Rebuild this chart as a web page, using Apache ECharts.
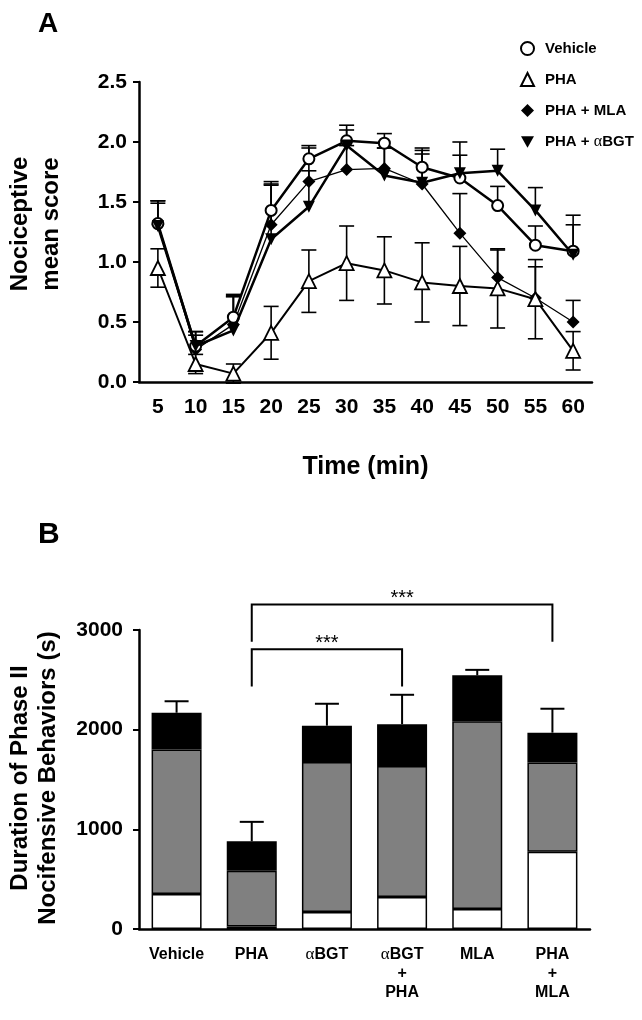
<!DOCTYPE html>
<html><head><meta charset="utf-8">
<script src="https://cdn.jsdelivr.net/npm/echarts@6/dist/echarts.min.js"></script>
<style>html,body{margin:0;padding:0;background:#fff}#c{width:642px;height:1020px}</style>
</head><body><div id="c"></div>
<script>
// ---------- Panel A data ----------
const times = ['5','10','15','20','25','30','35','40','45','50','55','60'];
const vehicle    = [1.32, 0.30, 0.54, 1.43, 1.86, 2.01, 1.99, 1.79, 1.70, 1.47, 1.14, 1.09];
const vehicleErr = [0.19, 0.12, 0.19, 0.24, 0.11, 0.09, 0.08, 0.16, 0.19, 0.16, 0.16, 0.22];
const pha        = [0.95, 0.15, 0.07, 0.41, 0.84, 0.99, 0.93, 0.83, 0.80, 0.78, 0.69, 0.26];
const phaErr     = [0.16, 0.08, 0.08, 0.22, 0.26, 0.31, 0.28, 0.33, 0.33, 0.33, 0.33, 0.16];
const phaMla     = [1.31, 0.27, 0.48, 1.31, 1.67, 1.77, 1.78, 1.65, 1.24, 0.87, 0.70, 0.50];
const phaMlaErr  = [0.18, 0.12, 0.23, 0.34, 0.28, 0.20, 0.17, 0.25, 0.33, 0.23, 0.26, 0.18];
const phaBgt     = [1.30, 0.30, 0.43, 1.19, 1.46, 1.97, 1.72, 1.66, 1.74, 1.76, 1.43, 1.06];
const phaBgtErr  = [0.21, 0.12, 0.29, 0.45, 0.30, 0.17, 0.23, 0.27, 0.26, 0.18, 0.19, 0.33];
const seriesNamesA = ['Vehicle', 'PHA', 'PHA + MLA', 'PHA + αBGT'];

// ---------- Panel B data ----------
const groups   = ['Vehicle', 'PHA', 'αBGT', 'αBGT\n+\nPHA', 'MLA', 'PHA\n+\nMLA'];
const whiteSeg = [350, 25, 170, 320, 200, 775];
const graySeg  = [1450, 560, 1505, 1315, 1885, 895];
const blackSeg = [370, 295, 365, 420, 460, 300];
const semB     = [115, 195, 220, 295, 55, 240];
// brackets: [left group index, right group index, bar level, leg end level]
const brackets = [[1, 5, 3257, 2883], [1, 3, 2807, 2432]];
const bracketText = ['***', '***'];

const FF = '"Liberation Sans", Arial, Helvetica, sans-serif';
const chart = echarts.init(document.getElementById('c'), null, {renderer: 'canvas'});

function errSeries(name, vals, errs, both) {
  return {
    type: 'custom', name: name, xAxisIndex: 0, yAxisIndex: 0, z: 1,
    data: vals.map((v, i) => [i, v, errs[i]]),
    encode: {x: 0, y: 1},
    renderItem: function (params, api) {
      const x = api.value(0), v = api.value(1), e = api.value(2);
      const top = api.coord([x, v + e]);
      const bot = api.coord([x, both ? v - e : v]);
      const hw = 7.5;
      const st = {stroke: '#000', lineWidth: 1.6};
      const ch = [
        {type: 'line', shape: {x1: top[0], y1: top[1], x2: bot[0], y2: bot[1]}, style: st},
        {type: 'line', shape: {x1: top[0] - hw, y1: top[1], x2: top[0] + hw, y2: top[1]}, style: st}
      ];
      if (both) ch.push({type: 'line', shape: {x1: bot[0] - hw, y1: bot[1], x2: bot[0] + hw, y2: bot[1]}, style: st});
      return {type: 'group', children: ch};
    }
  };
}

const totalsB = whiteSeg.map((w, i) => w + graySeg[i] + blackSeg[i]);

const option = {
  animation: false,
  backgroundColor: '#fff',
  textStyle: {fontFamily: FF, color: '#000'},
  grid: [
    {left: 139, top: 82, width: 453, height: 300},
    {left: 139, top: 630, width: 451, height: 299}
  ],
  legend: {
    orient: 'vertical', left: 515, top: 36, itemWidth: 13, itemHeight: 13, itemGap: 16,
    textStyle: {fontFamily: FF, fontSize: 15, fontWeight: 'bold', color: '#000', padding: [0, 0, 0, 6],
      rich: {a: {fontFamily: '"Liberation Serif", serif', fontSize: 16, fontWeight: 'normal', color: '#000'}}},
    formatter: n => n.replace('α', '{a|α}'),
    data: [
      {name: 'Vehicle', icon: 'circle'},
      {name: 'PHA', icon: 'triangle'},
      {name: 'PHA + MLA', icon: 'diamond'},
      {name: 'PHA + αBGT', icon: 'path://M0,0L10,0L5,9Z'}
    ],
    selectedMode: false
  },
  xAxis: [
    {gridIndex: 0, type: 'category', data: times, boundaryGap: true,
      axisLine: {lineStyle: {color: '#000', width: 2.5}},
      axisTick: {alignWithLabel: true, length: 6, lineStyle: {color: '#000', width: 2}},
      axisLabel: {color: '#000', fontFamily: FF, fontSize: 21, fontWeight: 'bold', margin: 15},
      name: 'Time (min)', nameLocation: 'middle', nameGap: 73,
      nameTextStyle: {color: '#000', fontFamily: FF, fontSize: 25, fontWeight: 'bold'}},
    {gridIndex: 1, type: 'category', data: groups, boundaryGap: true,
      axisLine: {lineStyle: {color: '#000', width: 2.5}},
      axisTick: {show: false},
      axisLabel: {color: '#000', fontFamily: FF, fontSize: 16, fontWeight: 'bold', lineHeight: 19, margin: 16, interval: 0,
        formatter: v => v.replace(/α/g, '{a|α}'),
        rich: {a: {fontFamily: '"Liberation Serif", serif', fontSize: 17, fontWeight: 'normal', color: '#000', lineHeight: 19}}}}
  ],
  yAxis: [
    {gridIndex: 0, type: 'value', min: 0, max: 2.5, interval: 0.5, splitLine: {show: false},
      axisLine: {show: true, lineStyle: {color: '#000', width: 2.5}},
      axisTick: {show: true, length: 6, lineStyle: {color: '#000', width: 2}},
      axisLabel: {color: '#000', fontFamily: FF, fontSize: 21, fontWeight: 'bold', margin: 12, formatter: v => v.toFixed(1)}},
    {gridIndex: 1, type: 'value', min: 0, max: 3000, interval: 1000, splitLine: {show: false},
      axisLine: {show: true, lineStyle: {color: '#000', width: 2.5}},
      axisTick: {show: true, length: 6, lineStyle: {color: '#000', width: 2}},
      axisLabel: {color: '#000', fontFamily: FF, fontSize: 21, fontWeight: 'bold', margin: 16, formatter: v => String(v)}}
  ],
  graphic: [
    {type: 'text', left: 38, top: 10, style: {text: 'A', font: 'bold 28px ' + FF, fill: '#000'}},
    {type: 'text', left: 38, top: 520, style: {text: 'B', font: 'bold 30px ' + FF, fill: '#000'}},
    {type: 'text', x: 36, y: 224, rotation: Math.PI / 2,
      style: {text: 'Nociceptive\nmean score', font: 'bold 24px ' + FF, fill: '#000', align: 'center', verticalAlign: 'middle', lineHeight: 31}},
    {type: 'text', x: 34, y: 778, rotation: Math.PI / 2,
      style: {text: 'Duration of Phase II\nNocifensive Behaviors (s)', font: 'bold 24px ' + FF, fill: '#000', align: 'center', verticalAlign: 'middle', lineHeight: 28}}
  ],
  series: [
    errSeries('errV', vehicle, vehicleErr, false),
    errSeries('errP', pha, phaErr, true),
    errSeries('errM', phaMla, phaMlaErr, false),
    errSeries('errB', phaBgt, phaBgtErr, false),
    {name: seriesNamesA[2], type: 'line', xAxisIndex: 0, yAxisIndex: 0, data: phaMla, z: 3,
      symbol: 'diamond', symbolSize: 13, showAllSymbol: true,
      lineStyle: {color: '#000', width: 1.3}, itemStyle: {color: '#000', borderColor: '#000', borderWidth: 0}},
    {name: seriesNamesA[1], type: 'line', xAxisIndex: 0, yAxisIndex: 0, data: pha, z: 3,
      symbol: 'triangle', symbolSize: 14, showAllSymbol: true,
      lineStyle: {color: '#000', width: 2}, itemStyle: {color: '#fff', borderColor: '#000', borderWidth: 1.8}},
    {name: seriesNamesA[0], type: 'line', xAxisIndex: 0, yAxisIndex: 0, data: vehicle, z: 4,
      symbol: 'circle', symbolSize: 11, showAllSymbol: true,
      lineStyle: {color: '#000', width: 2.5}, itemStyle: {color: '#fff', borderColor: '#000', borderWidth: 2}},
    {name: seriesNamesA[3], type: 'line', xAxisIndex: 0, yAxisIndex: 0, data: phaBgt, z: 5,
      symbol: 'triangle', symbolRotate: 180, symbolSize: 12, showAllSymbol: true,
      lineStyle: {color: '#000', width: 2.5}, itemStyle: {color: '#000', borderColor: '#000', borderWidth: 0}},
    // Panel B stacked bars
    {name: 'white', type: 'bar', xAxisIndex: 1, yAxisIndex: 1, stack: 'b', barWidth: 50, data: whiteSeg,
      itemStyle: {color: '#fff', borderColor: '#000', borderWidth: 1.5}},
    {name: 'gray', type: 'bar', xAxisIndex: 1, yAxisIndex: 1, stack: 'b', barWidth: 50, data: graySeg,
      itemStyle: {color: '#808080', borderColor: '#000', borderWidth: 1.5}},
    {name: 'black', type: 'bar', xAxisIndex: 1, yAxisIndex: 1, stack: 'b', barWidth: 50, data: blackSeg,
      itemStyle: {color: '#000', borderColor: '#000', borderWidth: 1.5}},
    {name: 'errBars', type: 'custom', xAxisIndex: 1, yAxisIndex: 1, z: 1,
      data: totalsB.map((t, i) => [i, t, semB[i]]), encode: {x: 0, y: 1},
      renderItem: function (params, api) {
        const x = api.value(0), v = api.value(1), e = api.value(2);
        const top = api.coord([x, v + e]), bot = api.coord([x, v]);
        const st = {stroke: '#000', lineWidth: 2};
        return {type: 'group', children: [
          {type: 'line', shape: {x1: top[0], y1: top[1], x2: bot[0], y2: bot[1]}, style: st},
          {type: 'line', shape: {x1: top[0] - 12, y1: top[1], x2: top[0] + 12, y2: top[1]}, style: st}
        ]};
      }},
    {name: 'brackets', type: 'custom', xAxisIndex: 1, yAxisIndex: 1, z: 6,
      data: brackets.map((b, i) => [b[0], b[1], b[2], b[3], i]), encode: {x: [0, 1], y: [2, 3]},
      renderItem: function (params, api) {
        const l = api.coord([api.value(0), api.value(2)]);
        const r = api.coord([api.value(1), api.value(2)]);
        const endY = api.coord([api.value(0), api.value(3)])[1];
        return {type: 'group', children: [
          {type: 'polyline', shape: {points: [[l[0], endY], [l[0], l[1]], [r[0], r[1]], [r[0], endY]]},
            style: {stroke: '#000', lineWidth: 2, fill: null}},
          {type: 'text', x: (l[0] + r[0]) / 2, y: l[1] - 6,
            style: {text: bracketText[api.value(4)], font: '20px ' + FF, fill: '#000', align: 'center', verticalAlign: 'middle'}}
        ]};
      }}
  ]
};
chart.setOption(option);
</script></body></html>
